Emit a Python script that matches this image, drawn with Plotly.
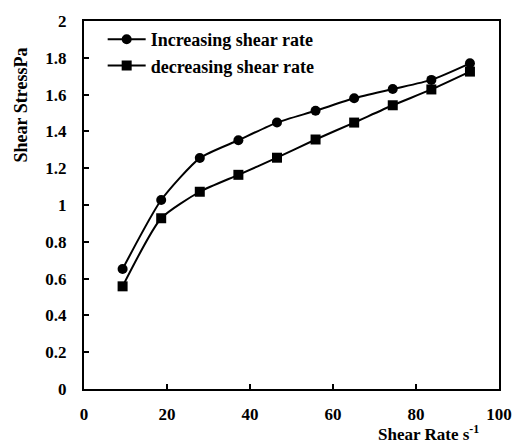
import plotly.graph_objects as go

shear_rate = [9.3, 18.6, 27.9, 37.2, 46.5, 55.8, 65.1, 74.4, 83.7, 93.0]
stress_increasing = [0.652, 1.027, 1.255, 1.352, 1.448, 1.512, 1.580, 1.630, 1.680, 1.770]
stress_decreasing = [0.558, 0.928, 1.072, 1.164, 1.257, 1.356, 1.448, 1.542, 1.628, 1.725]
series_names = ["Increasing shear rate", "decreasing shear rate"]

FONT = "Liberation Serif"

fig = go.Figure()
fig.add_trace(go.Scatter(
    x=shear_rate, y=stress_increasing, name=series_names[0],
    mode="lines+markers", line=dict(color="black", width=2, shape="spline", smoothing=0.6),
    marker=dict(symbol="circle", size=10, color="black"), legendgroup="a"))
fig.add_trace(go.Scatter(
    x=shear_rate, y=stress_decreasing, name=series_names[1],
    mode="lines+markers", line=dict(color="black", width=2, shape="spline", smoothing=0.6),
    marker=dict(symbol="square", size=10, color="black"), legendgroup="b"))

axis_common = dict(showgrid=False, zeroline=False, showline=True, linecolor="black",
                   linewidth=2, mirror=True, ticks="inside", ticklen=5, tickwidth=2,
                   tickcolor="black",
                   tickfont=dict(family=FONT, size=17, color="black", weight=700))

fig.update_layout(
    width=524, height=446,
    margin=dict(l=84, r=15, t=19, b=57),
    paper_bgcolor="white", plot_bgcolor="white",
    font=dict(family=FONT, color="black"),
    xaxis=dict(range=[0, 100], dtick=20, ticklabelstandoff=9, **axis_common),
    yaxis=dict(range=[0, 2], dtick=0.2, ticklabelstandoff=12, **axis_common),
    legend=dict(x=0.045, y=1.0, xanchor="left", yanchor="top", bgcolor="rgba(0,0,0,0)",
                font=dict(family=FONT, size=18, color="black", weight=700),
                tracegroupgap=0, itemwidth=38),
    showlegend=True,
)

fig.add_annotation(text="Shear StressPa", textangle=-90, xref="paper", yref="paper",
                   x=-0.152, y=0.773, showarrow=False, xanchor="center", yanchor="middle",
                   font=dict(family=FONT, size=18, color="black", weight=700))
fig.add_annotation(text="Shear Rate s<sup>-1</sup>", xref="paper", yref="paper",
                   x=0.83, y=-0.155, showarrow=False, xanchor="center", yanchor="bottom",
                   font=dict(family=FONT, size=17, color="black", weight=700))

fig.write_html("out.html")
